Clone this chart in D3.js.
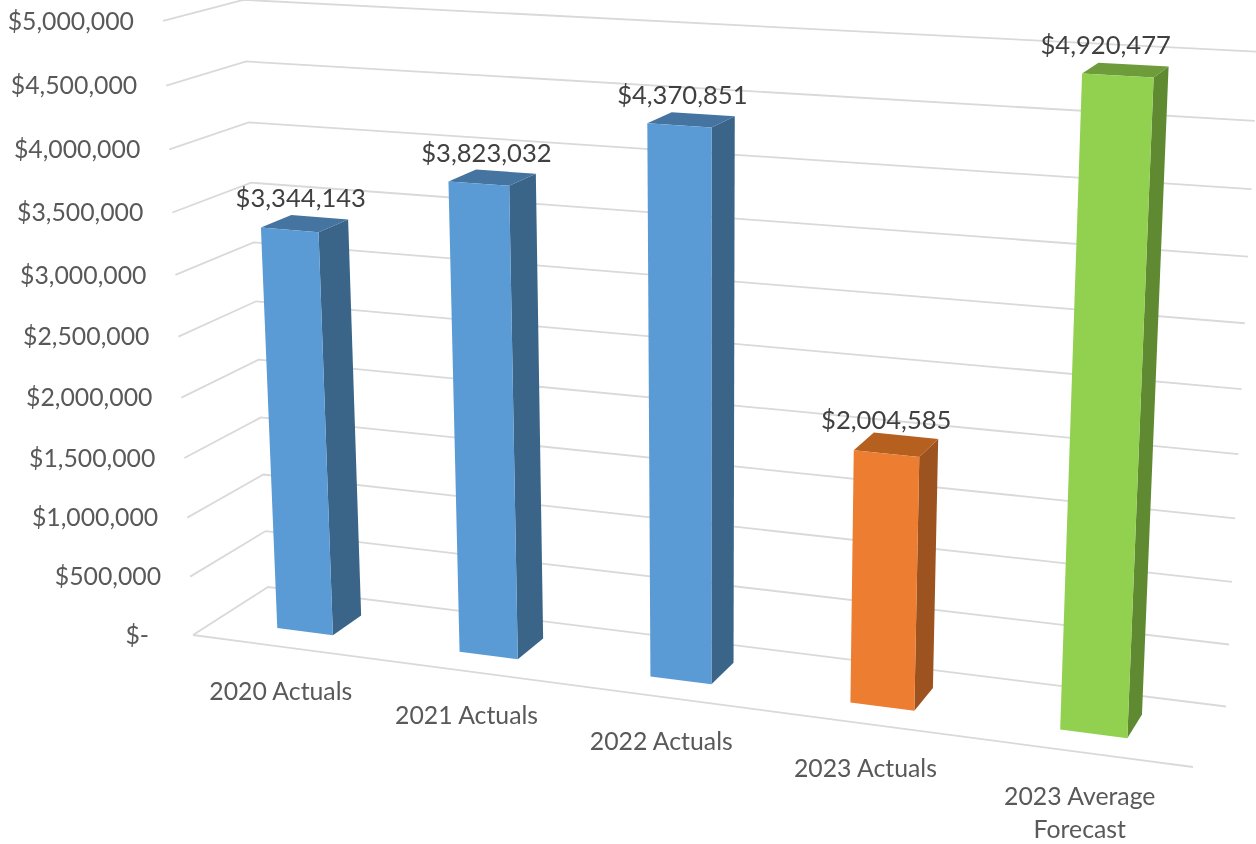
<!DOCTYPE html>
<html>
<head>
<meta charset="utf-8">
<script src="https://cdn.jsdelivr.net/npm/d3@7"></script>
<style>
  html, body { margin: 0; padding: 0; background: #fff; }
  svg { display: block; filter: blur(0.45px); }
  text { font-family: Lato, "Open Sans", sans-serif; font-size: 24.8px; }
  text.bar-label { font-size: 25.6px; }
</style>
</head>
<body>
<svg id="chart" width="1256" height="844"></svg>
<script>
// data
var categories = ['2020 Actuals', '2021 Actuals', '2022 Actuals', '2023 Actuals', '2023 Average Forecast'];
var values = [3344143, 3823032, 4370851, 2004585, 4920477];
var tickValues = [0, 500000, 1000000, 1500000, 2000000, 2500000, 3000000, 3500000, 4000000, 4500000, 5000000];
var barGroups = ['actual', 'actual', 'actual', 'current', 'forecast'];

var colors = {
    actual: { front: '#5b9bd5', side: '#3a6488', top: '#44749f' },
    current: { front: '#ed7d31', side: '#9c531f', top: '#b5601f' },
    forecast: { front: '#92d050', side: '#5f8a31', top: '#6e9c3b' }
};

// floor of the box on screen: front left, front right, back right, back left
var floorA = [193, 635], floorD = [1193, 767], floorC = [1226, 706.5], floorB = [268, 587];
// uprights all run towards one vanishing point below the page
var vanish = [710, 11226], vanishWeight = -0.0548;
var barDepth = [0.3, 0.7];
// the data labels do not sit quite over the bars in the original
var labelNudge = [-4, -6, -9, -10, -20];

var x = d3.scaleBand().domain(categories).range([0, 1]).paddingInner(0.69).paddingOuter(0.345);
var y = d3.scaleLinear().domain([0, 5000000]).range([0, 1]);

// square to quad homography for the floor
var det = (floorD[0] - floorC[0]) * (floorB[1] - floorC[1]) - (floorB[0] - floorC[0]) * (floorD[1] - floorC[1]);
var sx = floorA[0] - floorD[0] + floorC[0] - floorB[0];
var sy = floorA[1] - floorD[1] + floorC[1] - floorB[1];
var g = (sx * (floorB[1] - floorC[1]) - (floorB[0] - floorC[0]) * sy) / det;
var h = ((floorD[0] - floorC[0]) * sy - sx * (floorD[1] - floorC[1])) / det;

// u along the categories, v into the depth, w is a 0-1 height
function project(u, v, w) {
    var k = w * vanishWeight;
    var wt = g * u + h * v + 1 + k;
    var px = (floorD[0] - floorA[0] + g * floorD[0]) * u + (floorB[0] - floorA[0] + h * floorB[0]) * v + floorA[0] + k * vanish[0];
    var py = (floorD[1] - floorA[1] + g * floorD[1]) * u + (floorB[1] - floorA[1] + h * floorB[1]) * v + floorA[1] + k * vanish[1];
    return [px / wt, py / wt];
}

var svg = d3.select('#chart');
var face = d3.line();

// gridlines, left wall then back wall
svg.append('g').selectAll('path')
    .data(tickValues)
    .enter().append('path')
    .attr('d', function (d) {
        return face([project(0, 0, y(d)), project(0, 1, y(d)), project(1, 1, y(d))]);
    })
    .attr('fill', 'none')
    .attr('stroke', '#d9d9d9')
    .attr('stroke-width', 1.8);

// front edge of the floor
svg.append('path')
    .attr('d', face([project(0, 0, 0), project(1, 0, 0)]))
    .attr('fill', 'none')
    .attr('stroke', '#d9d9d9')
    .attr('stroke-width', 1.8);

// value labels on the left
svg.append('g').selectAll('text')
    .data(tickValues)
    .enter().append('text')
    .attr('x', function (d) { return project(0, 0, y(d))[0] - (d === 0 ? 44 : 29); })
    .attr('y', function (d) { return project(0, 0, y(d))[1]; })
    .attr('dy', '0.35em')
    .attr('text-anchor', 'end')
    .attr('fill', '#595959')
    .text(function (d) { return d === 0 ? '$-' : '$' + d3.format(',')(d); });

// bars
var bars = svg.append('g').selectAll('g')
    .data(categories)
    .enter().append('g');

function barPoints(d, i) {
    return { u0: x(d), u1: x(d) + x.bandwidth(), w: y(values[i]) };
}

bars.append('path')
    .attr('d', function (d, i) {
        var b = barPoints(d, i);
        return face([project(b.u1, barDepth[0], 0), project(b.u1, barDepth[1], 0), project(b.u1, barDepth[1], b.w), project(b.u1, barDepth[0], b.w)]) + 'Z';
    })
    .attr('fill', function (d, i) { return colors[barGroups[i]].side; });

bars.append('path')
    .attr('d', function (d, i) {
        var b = barPoints(d, i);
        return face([project(b.u0, barDepth[0], b.w), project(b.u1, barDepth[0], b.w), project(b.u1, barDepth[1], b.w), project(b.u0, barDepth[1], b.w)]) + 'Z';
    })
    .attr('fill', function (d, i) { return colors[barGroups[i]].top; });

bars.append('path')
    .attr('d', function (d, i) {
        var b = barPoints(d, i);
        return face([project(b.u0, barDepth[0], 0), project(b.u1, barDepth[0], 0), project(b.u1, barDepth[0], b.w), project(b.u0, barDepth[0], b.w)]) + 'Z';
    })
    .attr('fill', function (d, i) { return colors[barGroups[i]].front; });

// numbers above the bars
svg.append('g').selectAll('text')
    .data(categories)
    .enter().append('text')
    .attr('class', 'bar-label')
    .attr('x', function (d, i) {
        return project(x(d) + x.bandwidth() / 2, 0.5, y(values[i]))[0] + labelNudge[i];
    })
    .attr('y', function (d, i) {
        return project(x(d) + x.bandwidth() / 2, 0.5, y(values[i]))[1] - 25;
    })
    .attr('dy', '0.35em')
    .attr('text-anchor', 'middle')
    .attr('fill', '#404040')
    .text(function (d, i) { return '$' + d3.format(',')(values[i]); });

// category names under the floor, long one wraps
var names = svg.append('g').selectAll('text')
    .data(categories)
    .enter().append('text')
    .attr('text-anchor', 'middle')
    .attr('fill', '#595959')
    .attr('transform', function (d) {
        var p = project(x(d) + x.bandwidth() / 2, 0, 0);
        return 'translate(' + (p[0] - 2) + ',' + (p[1] + 44) + ')';
    });

names.each(function (d) {
    var lines = d.length > 13 ? [d.split(' ').slice(0, 2).join(' '), d.split(' ').slice(2).join(' ')] : [d];
    d3.select(this).selectAll('tspan')
        .data(lines)
        .enter().append('tspan')
        .attr('x', 0)
        .attr('y', function (l, i) { return i * 33; })
        .attr('dy', '0.35em')
        .text(function (l) { return l; });
});
</script>
</body>
</html>
